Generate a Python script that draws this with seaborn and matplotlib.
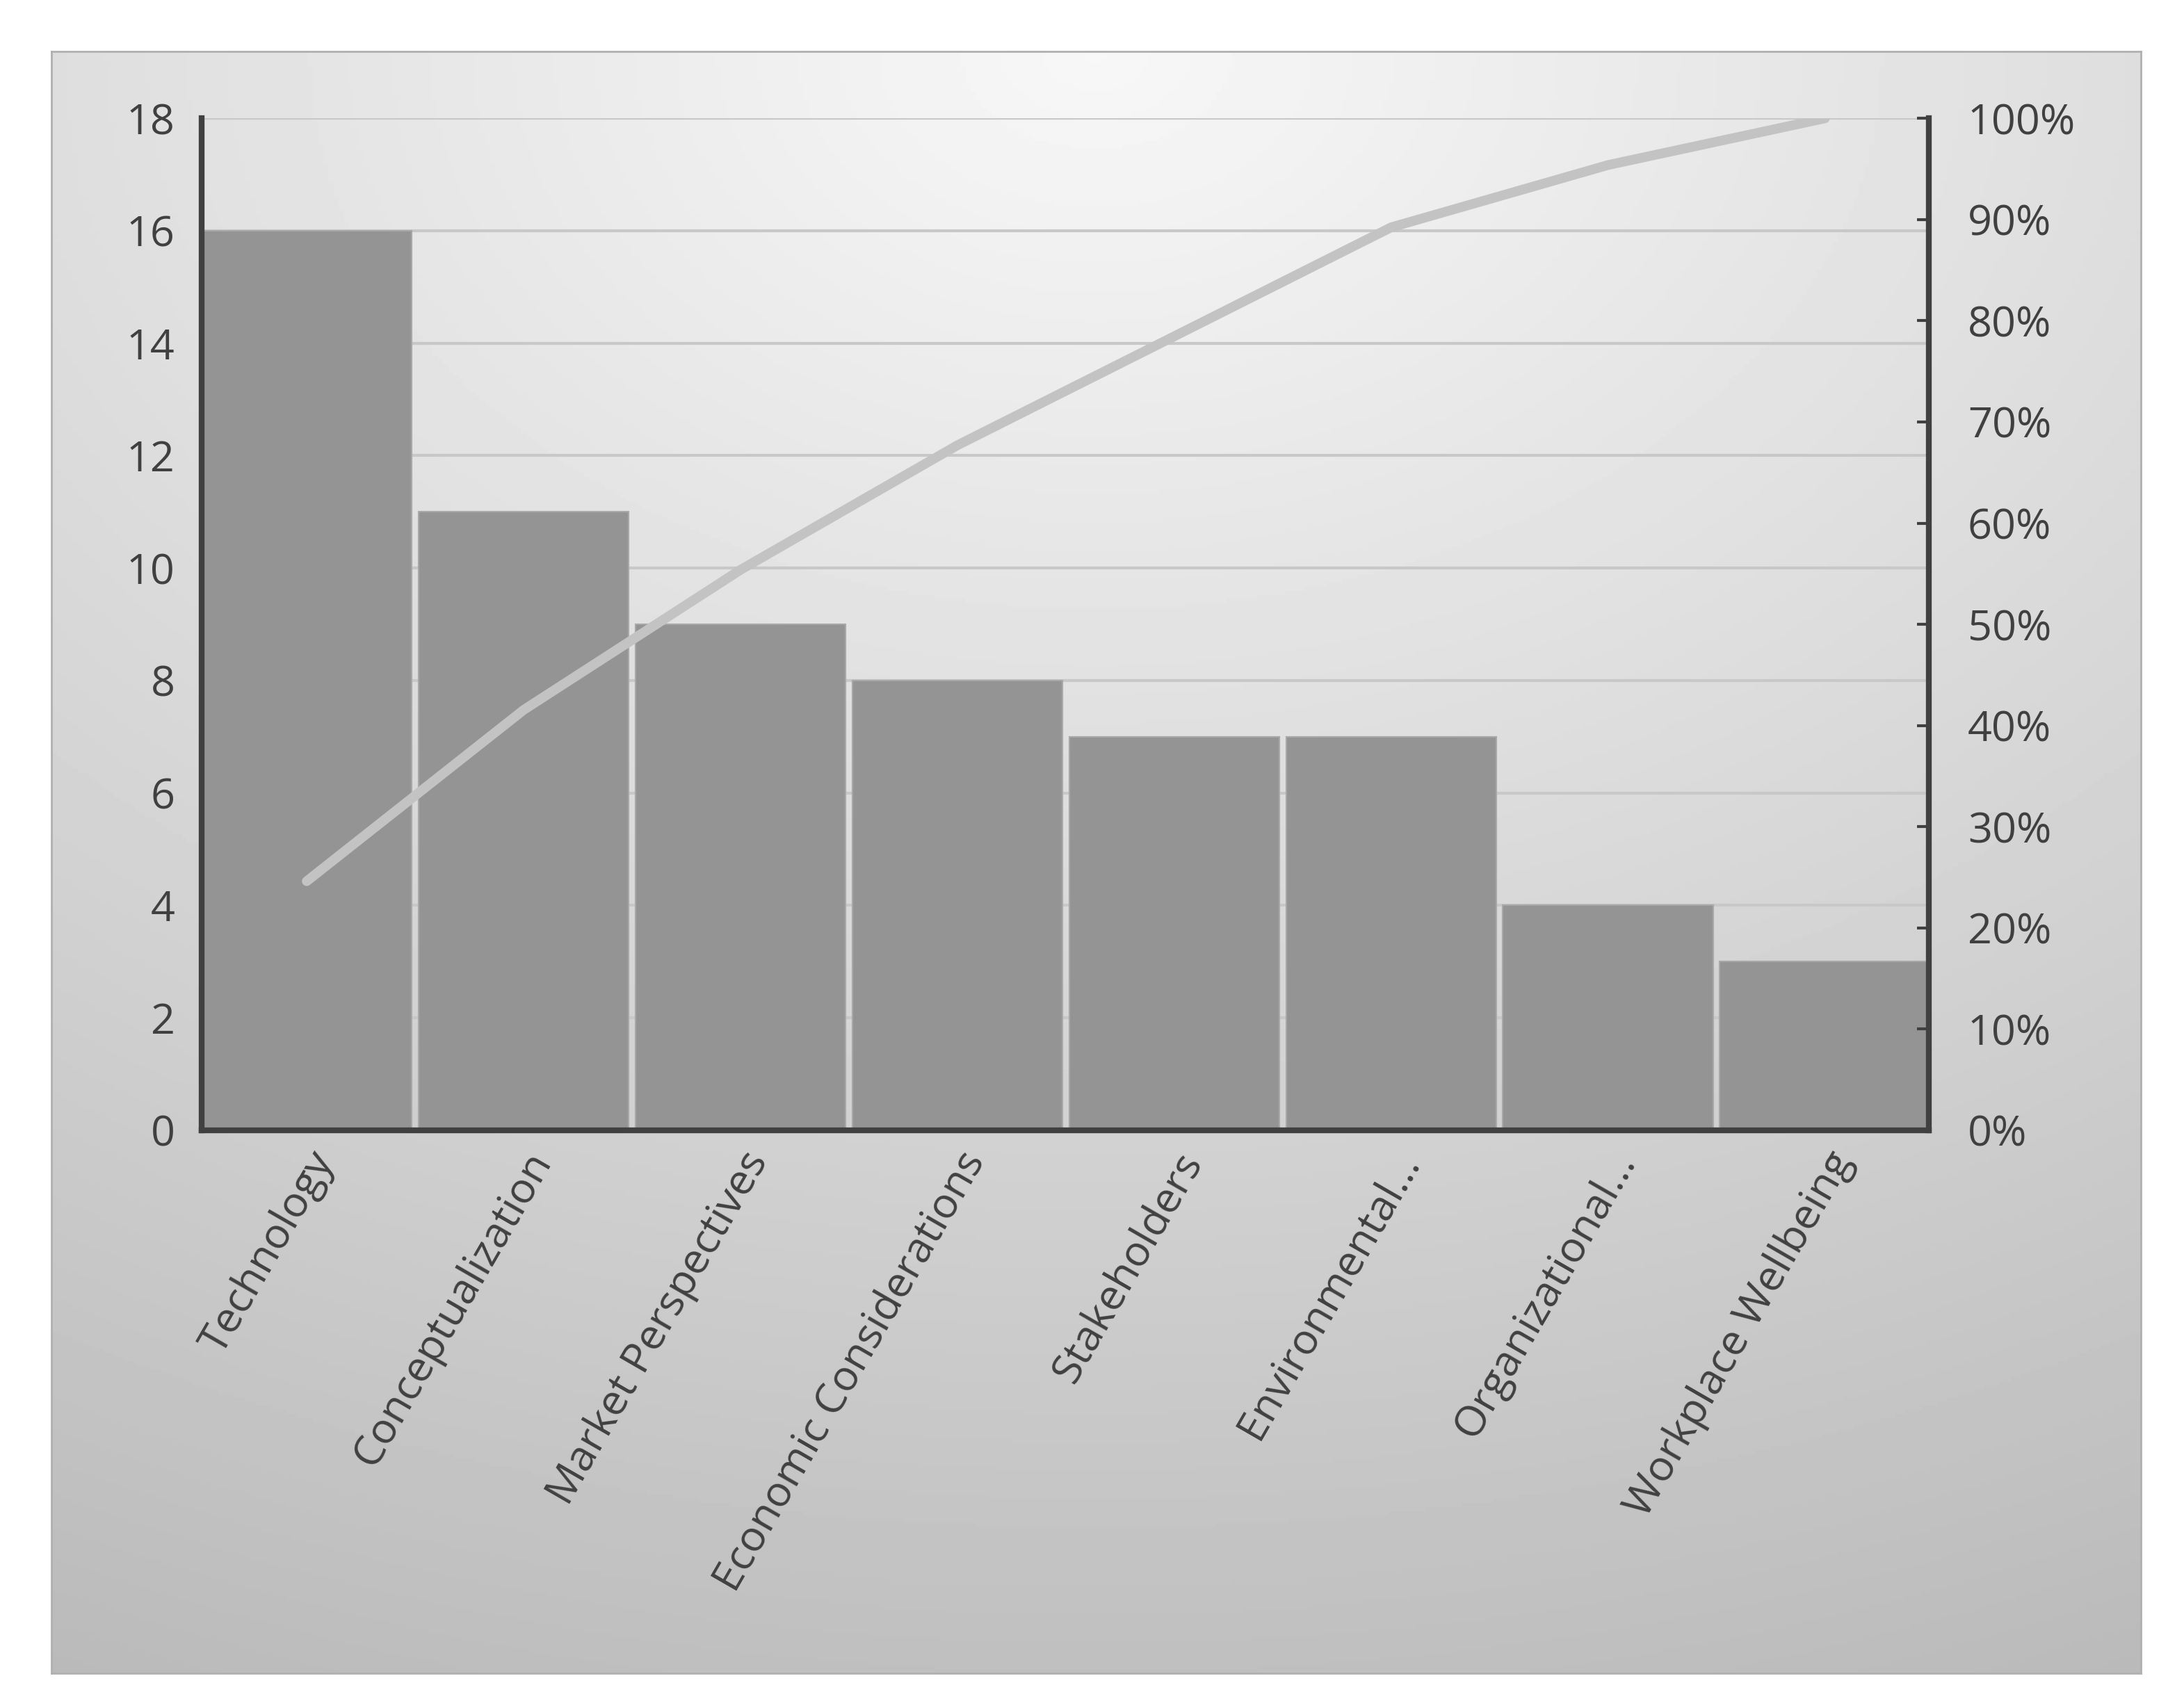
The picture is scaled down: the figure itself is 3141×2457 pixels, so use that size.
import numpy as np
import matplotlib
matplotlib.use("Agg")
import matplotlib.pyplot as plt
import seaborn as sns
from matplotlib.ticker import PercentFormatter

categories = ["Technology", "Conceptualization", "Market Perspectives", "Economic Considerations",
              "Stakeholders", "Environmental...", "Organizational...", "Workplace Wellbeing"]
counts = [16, 11, 9, 8, 7, 7, 4, 3]
cum_pct = list(np.cumsum(counts) / np.sum(counts) * 100)

sns.set_theme(style="white")
plt.rcParams['font.family'] = ['Open Sans', 'DejaVu Sans']

fig = plt.figure(figsize=(31.41, 24.57), dpi=100)
bg = fig.add_axes([37/1568, 1-1202/1227, 1500/1568, 1165/1227])
yy, xx = np.mgrid[0:1:400j, 0:1:400j]
r = np.sqrt(((xx-0.5)*1.0)**2 + (yy*1.1)**2)
img = 0.97 - 0.24*np.clip(r, 0, 1.2)/1.2
bg.imshow(img, cmap="gray", vmin=0, vmax=1, aspect="auto", extent=[0, 1, 1, 0])
bg.set_xticks([]); bg.set_yticks([])
for s in bg.spines.values():
    s.set_color("#b0b0b0"); s.set_linewidth(2)

ax = fig.add_axes([145/1568, 1-812/1227, (1385-145)/1568, (812-85)/1227])
ax.patch.set_alpha(0)
sns.barplot(x=categories, y=counts, ax=ax, color="#949494", width=0.97,
            edgecolor="#a8a8a8", linewidth=1.5, saturation=1, zorder=2)
ax.set_ylim(0, 18)
ax.set_yticks(range(0, 19, 2))
ax.set_xlim(-0.483, 7.48)
ax.yaxis.grid(True, color="#c8c8c8", linewidth=3, zorder=0)
ax.set_axisbelow(True)
ax.tick_params(axis="y", labelsize=44, colors="#404040", length=0, pad=28)
ax.tick_params(axis="x", labelsize=44, colors="#404040", length=0, pad=15)
plt.setp(ax.get_xticklabels(), rotation=60, ha="right", rotation_mode="anchor")
for s in ["left", "bottom"]:
    ax.spines[s].set_color("#404040"); ax.spines[s].set_linewidth(6)
ax.spines["top"].set_visible(False)
ax.spines["right"].set_visible(False)

ax2 = ax.twinx()
sns.lineplot(x=np.arange(len(categories)), y=cum_pct, ax=ax2, color="#c3c3c3",
             linewidth=10, solid_capstyle="round")
ax2.set_ylim(0, 100)
ax2.set_yticks(range(0, 101, 10))
ax2.yaxis.set_major_formatter(PercentFormatter(decimals=0))
ax2.tick_params(axis="y", labelsize=44, colors="#404040", direction="in", length=12, width=3, pad=40)
ax2.spines["right"].set_color("#404040"); ax2.spines["right"].set_linewidth(6)
for s in ["left", "top", "bottom"]:
    ax2.spines[s].set_visible(False)
ax2.set_ylabel("")
ax.set_ylabel("")

fig.savefig("out.png", dpi=100)
